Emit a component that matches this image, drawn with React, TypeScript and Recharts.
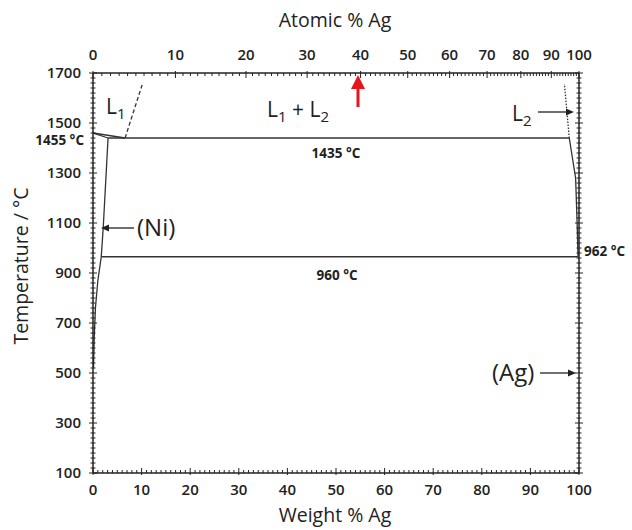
import { ComposedChart, Line, XAxis, YAxis } from 'recharts'

// ── Data: Ni–Ag phase diagram (x = wt% Ag, t = °C) ───────────────────────────

const W_TICKS = [0, 10, 20, 30, 40, 50, 60, 70, 80, 90, 100]
const T_TICKS = [100, 300, 500, 700, 900, 1100, 1300, 1500, 1700]
const AT_LABELS = [0, 10, 20, 30, 40, 50, 60, 70, 80, 90, 100]
// wt% positions of the atomic % labels on the top axis
const AT_POS = [0, 16.96, 31.48, 44.06, 55.06, 64.76, 73.38, 81.09, 88.03, 94.3, 100]

const niLiquid = [{ w: 0, t: 1460 }, { w: 6.6, t: 1440 }]
const niSolidus = [{ w: 0, t: 1460 }, { w: 3.1, t: 1440 }]
const niSolvus = [
  { w: 3.1, t: 1440 },
  { w: 2.1, t: 1080 },
  { w: 1.7, t: 965 },
  { w: 1.0, t: 870 },
  { w: 0.5, t: 760 },
  { w: 0.25, t: 640 },
  { w: 0.1, t: 520 },
]
const l1Liquidus = [{ w: 6.6, t: 1440 }, { w: 10.1, t: 1652 }]
const l2Liquidus = [{ w: 98, t: 1440 }, { w: 97, t: 1656 }]
const monotectic = [{ w: 3.1, t: 1440 }, { w: 98, t: 1440 }]
const agLiquidus = [
  { w: 98, t: 1440 },
  { w: 99.3, t: 1280 },
  { w: 99.6, t: 1110 },
  { w: 99.8, t: 965 },
]
const eutectic = [{ w: 1.7, t: 965 }, { w: 99.8, t: 965 }]

// ── Axis helpers ──────────────────────────────────────────────────────────────

const INK = '#222'
const FONT = '"Open Sans", sans-serif'

const range = (a: number, b: number, step: number) => {
  const out: number[] = []
  for (let v = a; v <= b + 1e-9; v += step) out.push(v)
  return out
}

const atToWt = (a: number) => (a * 107.87) / (a * 107.87 + (100 - a) * 58.69) * 100

const bottomTicks = range(0, 100, 1)
const topTicks = [
  ...range(1, 99, 1).filter((a) => a % 10 !== 0).map(atToWt),
  ...AT_POS,
]
const tempTicks = range(100, 1700, 20)

const tickText = { fontFamily: FONT, fontSize: 15, fontWeight: 600, fill: INK }

const BottomTick = ({ x, y, payload }: any) => {
  const major = W_TICKS.includes(payload.value)
  return (
    <g>
      <line x1={x} x2={x} y1={y + (major ? 2 : 0)} y2={y - (major ? 5 : 3)} stroke={INK} strokeWidth={1} />
      {major && (
        <text x={x} y={y + 22} textAnchor="middle" {...tickText}>{payload.value}</text>
      )}
    </g>
  )
}

const TopTick = ({ x, y, payload }: any) => {
  const i = AT_POS.indexOf(payload.value)
  const major = i >= 0
  return (
    <g>
      <line x1={x} x2={x} y1={y - (major ? 2 : 0)} y2={y + (major ? 5 : 3)} stroke={INK} strokeWidth={1} />
      {major && (
        <text x={x} y={y - 13} textAnchor="middle" {...tickText}>{AT_LABELS[i]}</text>
      )}
    </g>
  )
}

const LeftTick = ({ x, y, payload }: any) => {
  const major = T_TICKS.includes(payload.value)
  return (
    <g>
      <line x1={x - (major ? 4 : 2.5)} x2={x + (major ? 4 : 2.5)} y1={y} y2={y} stroke={INK} strokeWidth={1} />
      {major && (
        <text x={x - 12} y={y + 5} textAnchor="end" {...tickText}>{payload.value}</text>
      )}
    </g>
  )
}

const RightTick = ({ x, y, payload }: any) => {
  const major = T_TICKS.includes(payload.value)
  return (
    <line x1={x - (major ? 4 : 2.5)} x2={x + (major ? 4 : 2.5)} y1={y} y2={y} stroke={INK} strokeWidth={1} />
  )
}

const axisLine = { stroke: INK, strokeWidth: 1.5 }

// ── Annotations ───────────────────────────────────────────────────────────────

const label = { fontFamily: FONT, fontSize: 21, fill: INK }
const small = { fontFamily: FONT, fontSize: 13.5, fontWeight: 700, fill: INK }
const title = { fontFamily: FONT, fontSize: 19.5, fill: INK }

function Annotations() {
  return (
    <svg
      width={632}
      height={530}
      style={{ position: 'absolute', left: 0, top: 0, pointerEvents: 'none' }}
    >
      <text x={335} y={27} textAnchor="middle" {...title}>Atomic % Ag</text>
      <text x={335} y={522} textAnchor="middle" {...title}>Weight % Ag</text>
      <text
        x={20}
        y={266}
        textAnchor="middle"
        dominantBaseline="central"
        transform="rotate(-90 20 266)"
        {...title}
      >
        Temperature / °C
      </text>

      <text x={106} y={114} {...label}>L<tspan fontSize={15} dy={5}>1</tspan></text>
      <text x={267} y={117} {...label}>
        L<tspan fontSize={15} dy={5}>1</tspan><tspan dy={-5}> + L</tspan><tspan fontSize={15} dy={5}>2</tspan>
      </text>
      <text x={512} y={121} {...label}>L<tspan fontSize={15} dy={5}>2</tspan></text>
      <line x1={538} x2={567} y1={112} y2={112} stroke={INK} strokeWidth={1.3} />
      <polygon points="574,112 566,108.5 566,115.5" fill={INK} />

      <text x={137} y={236} fontFamily={FONT} fontSize={24} fill={INK}>(Ni)</text>
      <line x1={134} x2={108} y1={228} y2={228} stroke={INK} strokeWidth={1.3} />
      <polygon points="101,228 109,224.5 109,231.5" fill={INK} />

      <text x={492} y={381} fontFamily={FONT} fontSize={24} fill={INK}>(Ag)</text>
      <line x1={540} x2={568} y1={373} y2={373} stroke={INK} strokeWidth={1.3} />
      <polygon points="576,373 568,369.5 568,376.5" fill={INK} />

      <text x={84} y={145} textAnchor="end" {...small}>1455 °C</text>
      <text x={336} y={158} textAnchor="middle" {...small}>1435 °C</text>
      <text x={337} y={280} textAnchor="middle" {...small}>960 °C</text>
      <text x={584} y={256} {...small}>962 °C</text>

      <line x1={358} x2={358} y1={107} y2={86} stroke="#e8141b" strokeWidth={3} />
      <polygon points="358,75 351,89 365,89" fill="#e8141b" />
    </svg>
  )
}

// ── Chart ─────────────────────────────────────────────────────────────────────

const boundaries = [
  { key: 'niLiquid', data: niLiquid },
  { key: 'niSolidus', data: niSolidus },
  { key: 'niSolvus', data: niSolvus },
  { key: 'monotectic', data: monotectic },
  { key: 'agLiquidus', data: agLiquidus },
  { key: 'eutectic', data: eutectic },
]

export default function App() {
  return (
    <div style={{ position: 'absolute', left: 0, top: 0, width: 632, height: 530, background: '#fff' }}>
      <ComposedChart width={632} height={530} margin={{ top: 43, right: 33, bottom: 27, left: 33 }}>
        <XAxis
          xAxisId="w"
          type="number"
          dataKey="w"
          domain={[0, 100]}
          allowDataOverflow
          ticks={bottomTicks}
          interval={0}
          height={30}
          tickSize={0}
          tickMargin={0}
          tickLine={false}
          axisLine={axisLine}
          tick={(p: any) => <BottomTick {...p} />}
        />
        <XAxis
          xAxisId="a"
          orientation="top"
          type="number"
          dataKey="w"
          domain={[0, 100]}
          allowDataOverflow
          ticks={topTicks}
          interval={0}
          height={30}
          tickSize={0}
          tickMargin={0}
          tickLine={false}
          axisLine={axisLine}
          tick={(p: any) => <TopTick {...p} />}
        />
        <YAxis
          yAxisId="l"
          type="number"
          domain={[100, 1700]}
          allowDataOverflow
          ticks={tempTicks}
          interval={0}
          width={60}
          tickSize={0}
          tickMargin={0}
          tickLine={false}
          axisLine={axisLine}
          tick={(p: any) => <LeftTick {...p} />}
        />
        <YAxis
          yAxisId="r"
          orientation="right"
          type="number"
          domain={[100, 1700]}
          allowDataOverflow
          ticks={tempTicks}
          interval={0}
          width={20}
          tickSize={0}
          tickMargin={0}
          tickLine={false}
          axisLine={axisLine}
          tick={(p: any) => <RightTick {...p} />}
        />
        {boundaries.map(({ key, data }) => (
          <Line
            key={key}
            xAxisId="w"
            yAxisId="l"
            data={data}
            dataKey="t"
            type="linear"
            stroke="#333"
            strokeWidth={1.3}
            dot={false}
            isAnimationActive={false}
          />
        ))}
        <Line
          xAxisId="w"
          yAxisId="l"
          data={l1Liquidus}
          dataKey="t"
          type="linear"
          stroke="#333"
          strokeWidth={1.3}
          strokeDasharray="4 2.5"
          dot={false}
          isAnimationActive={false}
        />
        <Line
          xAxisId="w"
          yAxisId="l"
          data={l2Liquidus}
          dataKey="t"
          type="linear"
          stroke="#333"
          strokeWidth={1.3}
          strokeDasharray="1.5 1.5"
          dot={false}
          isAnimationActive={false}
        />
      </ComposedChart>
      <Annotations />
    </div>
  )
}
